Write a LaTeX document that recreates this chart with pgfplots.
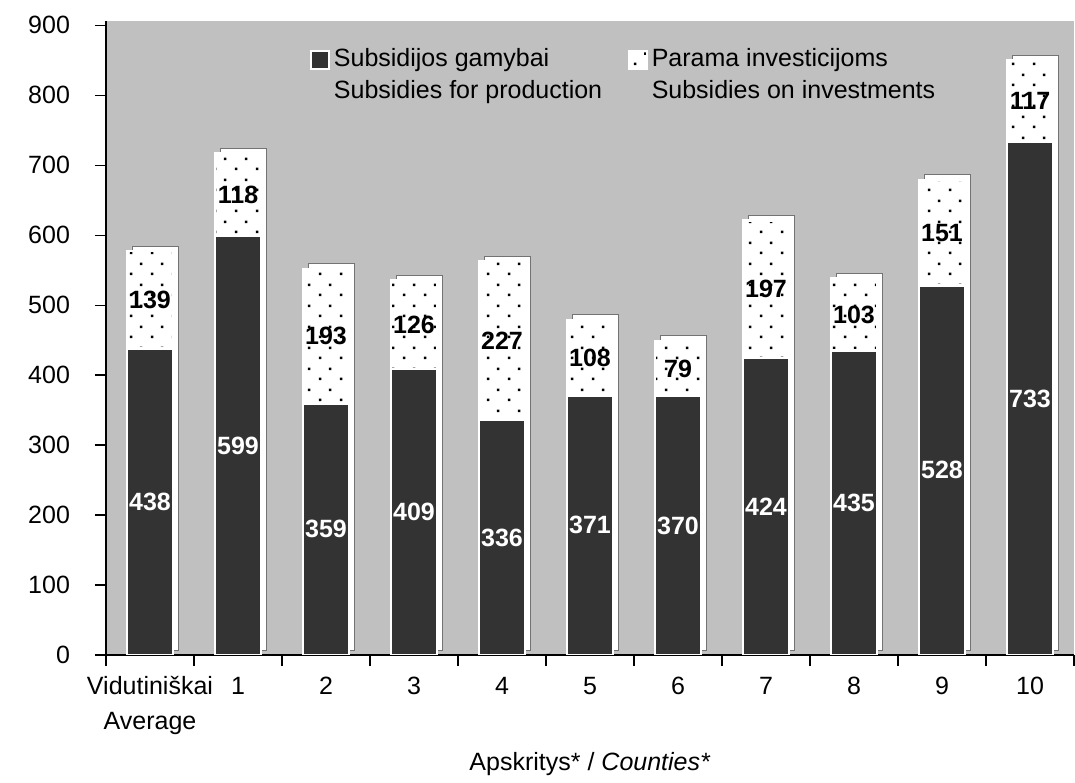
\documentclass[border=0pt]{standalone}
\usepackage{pgfplots}
\pgfplotsset{compat=1.18}
\usepackage{pgfplotstable}
\usepackage{fontspec}
\setmainfont{Liberation Sans}
\usetikzlibrary{patterns}

\definecolor{bgGray}{HTML}{C0C0C0}
\definecolor{barDark}{HTML}{333333}

% sparse dot fill of the upper segments
\pgfdeclarepatternformonly{sparsedots}{\pgfpointorigin}{\pgfqpoint{10.5pt}{10.5pt}}{\pgfqpoint{10.5pt}{10.5pt}}{%
  \pgfpathrectangle{\pgfqpoint{2pt}{2pt}}{\pgfqpoint{1.3pt}{1.3pt}}%
  \pgfpathrectangle{\pgfqpoint{7.25pt}{7.25pt}}{\pgfqpoint{1.3pt}{1.3pt}}%
  \pgfusepath{fill}}

\pgfplotstableread{
x  prod invest
0  438  139
1  599  118
2  359  193
3  409  126
4  336  227
5  371  108
6  370  79
7  424  197
8  435  103
9  528  151
10 733  117
}\counties

\newcommand{\chartfont}{\fontsize{12.5}{15}\selectfont}
\newcommand{\twolines}[2]{\begin{tabular}[t]{@{}l@{}}#1\\[1pt]#2\end{tabular}}
\newcommand{\twolinesc}[2]{\begin{tabular}[t]{@{}c@{}}#1\\[2.5pt]#2\end{tabular}}

\begin{document}
\begin{tikzpicture}
\begin{axis}[
  scale only axis, width=484pt, height=317pt,
  xmin=-0.5, xmax=10.5, ymin=0, ymax=906,
  axis lines*=left,
  axis line style={black, line width=0.6pt},
  axis background/.style={fill=bgGray},
  tick align=outside,
  major tick length=5.5pt, minor tick length=5.5pt,
  tick style={black, line width=0.6pt},
  ytick={0,100,...,900},
  xtick={0,...,10},
  minor xtick={-0.5,0.5,...,10.5},
  every major x tick/.append style={draw=none},
  xticklabels={{\twolinesc{Vidutiniškai}{Average}},1,2,3,4,5,6,7,8,9,10},
  xticklabel style={anchor=base, yshift=-14.5pt},
  yticklabel style={xshift=-9pt},
  tick label style={font=\chartfont},
  /pgf/number format/assume math mode=true,
  xlabel={Apskritys* / \textit{Counties*}},
  xlabel style={font=\chartfont, at={(axis description cs:0.5,0)}, anchor=base, yshift=-58pt},
  legend columns=2,
  legend image code/.code={\draw[#1, line width=0.8pt] (0pt,-1pt) rectangle (9pt,8pt);},
  legend style={at={(0.2045,0.974)}, anchor=north west, draw=none, fill=none,
    font=\chartfont, cells={anchor=base west},
    /tikz/every even column/.append style={column sep=11pt}},
  % white side and top faces behind each column
  bar3d/.style={preaction={fill=white, draw=black!55, line width=0.4pt,
    transform canvas={shift={(2.5pt,2.5pt)}}}},
  segbar/.style={ybar, bar width=23pt, bar shift=0pt, draw=white, line width=1.2pt, forget plot},
  seglabel/.style={draw=none, mark=none, forget plot, nodes near coords, point meta=explicit,
    nodes near coords style={font=\chartfont\bfseries, anchor=center, #1}},
]
\addlegendimage{fill=barDark, draw=white}
\addlegendentry{\twolines{Subsidijos gamybai}{Subsidies for production}}
\addlegendimage{fill=white, draw=white, postaction={pattern=sparsedots, pattern color=black}}
\addlegendentry{\twolines{Parama investicijoms}{Subsidies on investments}}
% dotted part: stands on top of the dark part
\addplot[segbar, fill=white, bar3d, postaction={pattern=sparsedots, pattern color=black}]
  table[x=x, y expr=\thisrow{prod}+\thisrow{invest}] {\counties};
\addplot[segbar, fill=barDark]
  table[x=x, y=prod] {\counties};
% value labels in the middle of each part
\addplot[seglabel=white]
  table[x=x, y expr=0.5*\thisrow{prod}, meta=prod] {\counties};
\addplot[seglabel=black]
  table[x=x, y expr=\thisrow{prod}+0.5*\thisrow{invest}, meta=invest] {\counties};
\coordinate (O) at (rel axis cs:0,0);
\coordinate (T) at (rel axis cs:1,1);
\end{axis}
\path ([shift={(-53pt,-62.5pt)}]O) rectangle ([shift={(0.5pt,10.5pt)}]T);
\end{tikzpicture}
\end{document}
